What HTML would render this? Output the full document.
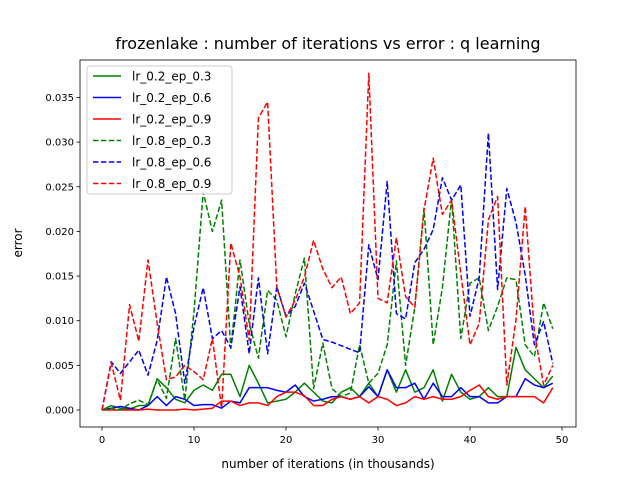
<!DOCTYPE html>
<html><head><meta charset="utf-8"><style>
body{margin:0;background:#fff;font-family:"Liberation Sans","DejaVu Sans",sans-serif}
svg text{font-family:"DejaVu Sans","Liberation Sans",sans-serif}
</style></head><body>
<svg id="chart" width="640" height="480">
<rect width="640" height="480" fill="#fff"/>
<text x="328" y="49" text-anchor="middle" font-size="16">frozenlake : number of iterations vs error : q learning</text>
<g id="plot"></g>
<g id="axes"></g>
<text x="328" y="468" text-anchor="middle" font-size="12">number of iterations (in thousands)</text>
<text x="22" y="243" text-anchor="middle" font-size="12" transform="rotate(-90 22 243)">error</text>
<g id="legend"></g>
</svg>
<script>
const xTicks=[0,10,20,30,40,50];
const yTicks=[0,0.005,0.010,0.015,0.020,0.025,0.030,0.035];
const yTickLabels=["0.000","0.005","0.010","0.015","0.020","0.025","0.030","0.035"];
const seriesNames=["lr_0.2_ep_0.3","lr_0.2_ep_0.6","lr_0.2_ep_0.9","lr_0.8_ep_0.3","lr_0.8_ep_0.6","lr_0.8_ep_0.9"];
const s_02_03=[0,0.0005,0.0002,0.0001,0.0005,0.0005,0.0035,0.0025,0.0012,0.0008,0.0022,0.0028,0.0022,0.004,0.004,0.0015,0.005,0.003,0.0008,0.001,0.0012,0.002,0.003,0.002,0.001,0.0008,0.002,0.0025,0.0015,0.003,0.0015,0.0045,0.002,0.0045,0.002,0.0025,0.0045,0.001,0.004,0.002,0.0012,0.0015,0.0025,0.0015,0.0015,0.007,0.0045,0.0035,0.0025,0.0038];
const s_02_06=[0,0.0002,0.0004,0.0002,0,0.0005,0.0015,0.0005,0.0015,0.0012,0.0005,0.0006,0.0006,0.0002,0.001,0.0008,0.0025,0.0025,0.0025,0.0022,0.002,0.0028,0.0015,0.001,0.0012,0.0015,0.0015,0.0012,0.0015,0.0026,0.0015,0.0045,0.0025,0.0025,0.003,0.0012,0.003,0.0015,0.0015,0.0025,0.0015,0.0015,0.0008,0.0008,0.0015,0.0015,0.0035,0.0028,0.0025,0.003];
const s_02_09=[0,0,0,0,0,0.0001,0,0,0,0.0001,0,0.0001,0.0002,0.001,0.001,0.0005,0.0008,0.0008,0.0005,0.0015,0.002,0.002,0.0016,0.0005,0.0005,0.0012,0.0015,0.0012,0.0015,0.0008,0.0015,0.0012,0.0005,0.0008,0.0015,0.0012,0.0015,0.0012,0.0012,0.0015,0.0022,0.0028,0.0015,0.0012,0.0015,0.0015,0.0015,0.0015,0.0008,0.0025];
const s_08_03=[0,0.0002,0,0.0007,0.0011,0.0006,0.0034,0.0013,0.008,0.0011,0.011,0.0244,0.02,0.0235,0.0069,0.0168,0.0097,0.0058,0.0134,0.0123,0.0082,0.013,0.017,0.0024,0.0075,0.0024,0.0015,0.0019,0.0073,0.003,0.0041,0.0073,0.0167,0.005,0.0115,0.0226,0.0073,0.0137,0.0237,0.008,0.0142,0.0148,0.0089,0.0116,0.0148,0.0146,0.0073,0.006,0.012,0.0091];
const s_08_06=[0,0.0054,0.0041,0.0054,0.0067,0.0039,0.0078,0.0149,0.0108,0.003,0.0093,0.0137,0.008,0.0089,0.007,0.0138,0.0063,0.0148,0.0063,0.0138,0.0105,0.0116,0.0142,0.0111,0.0079,0.0076,0.0072,0.0068,0.0064,0.0185,0.0146,0.0256,0.0108,0.0102,0.0165,0.018,0.0202,0.026,0.0235,0.0252,0.0105,0.0148,0.031,0.0135,0.0248,0.021,0.0151,0.0073,0.0099,0.0052];
const s_08_09=[0,0.0053,0.0011,0.0118,0.0077,0.0168,0.0097,0.0034,0.0037,0.005,0.0043,0.0034,0.008,0.0002,0.0187,0.0149,0.0078,0.0327,0.0345,0.0138,0.0104,0.0123,0.0149,0.019,0.0158,0.0137,0.0149,0.0108,0.012,0.0377,0.0125,0.012,0.0193,0.0127,0.0115,0.0224,0.0282,0.0219,0.0235,0.0153,0.0073,0.0097,0.0213,0.0239,0.0028,0.0101,0.0228,0.0087,0.0028,0.005];
const allSeries=[s_02_03,s_02_06,s_02_09,s_08_03,s_08_06,s_08_09];
const colors=["#008000","#0000ff","#ff0000","#008000","#0000ff","#ff0000"];
const dashed=[false,false,false,true,true,true];
const L=80,R=576,T=60,B=427;
const xs=v=>102+v*9.2;
const ys=v=>410-v*8930;
const NS="http://www.w3.org/2000/svg";
function mk(tag,attrs,parent){const e=document.createElementNS(NS,tag);for(const k in attrs)e.setAttribute(k,attrs[k]);parent.appendChild(e);return e;}
const plot=document.getElementById('plot'),axes=document.getElementById('axes'),leg=document.getElementById('legend');
allSeries.forEach((s,si)=>{
  const d=s.map((v,i)=>(i?'L':'M')+xs(i).toFixed(2)+' '+ys(v).toFixed(2)).join(' ');
  const p=mk('path',{d:d,fill:'none',stroke:colors[si],'stroke-width':1.5,'stroke-dasharray':dashed[si]?'5.5,2.4':'none','stroke-linejoin':'round'},plot);
  
  
});
const fr=mk('rect',{x:L,y:T,width:R-L,height:B-T,fill:'none',stroke:'#000','stroke-width':0.8},axes);


xTicks.forEach(t=>{
  const x=xs(t);
  const l=mk('line',{x1:x,x2:x,y1:B,y2:B+3.5,stroke:'#000','stroke-width':0.8},axes);
  
  
  const tx=mk('text',{x:x,y:B+16,'text-anchor':'middle','font-size':10},axes);
  tx.textContent=t;
  
  
});
yTicks.forEach((t,i)=>{
  const y=ys(t);
  const l=mk('line',{x1:L-3.5,x2:L,y1:y,y2:y,stroke:'#000','stroke-width':0.8},axes);
  
  
  const tx=mk('text',{x:L-6,y:y+3.5,'text-anchor':'end','font-size':10},axes);
  tx.textContent=yTickLabels[i];
  
  
});
const lb=mk('rect',{x:87,y:66,width:145,height:128,rx:3,fill:'#fff','fill-opacity':0.8,stroke:'#ccc','stroke-width':1},leg);


seriesNames.forEach((n,i)=>{
  const y=76+i*21.5;
  const g=mk('g',{},leg);
  
  
  mk('line',{x1:93,x2:121,y1:y,y2:y,stroke:colors[i],'stroke-width':1.5,'stroke-dasharray':dashed[i]?'5.5,2.4':'none'},g);
  const t=mk('text',{x:132,y:y+4.5,'font-size':12},g);
  t.textContent=n;
});
</script>
</body></html>
